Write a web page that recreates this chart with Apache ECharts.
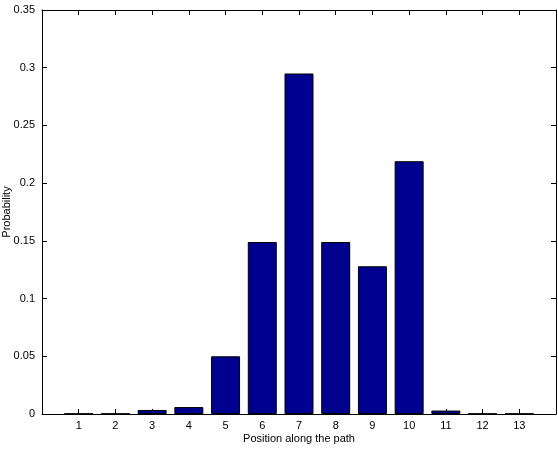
<!DOCTYPE html>
<html><head><meta charset="utf-8">
<script src="https://cdn.jsdelivr.net/npm/echarts@6/dist/echarts.min.js"></script>
<style>html,body{margin:0;padding:0;background:#fff}#c{width:558px;height:450px}</style>
</head><body><div id="c"></div>
<script>
const positions = [1,2,3,4,5,6,7,8,9,10,11,12,13];
const probabilities = [0.0003,0.0003,0.0035,0.006,0.05,0.149,0.295,0.149,0.128,0.219,0.003,0.0003,0.0003];
const yTicks = [0,0.05,0.1,0.15,0.2,0.25,0.3,0.35];

const font = 'Liberation Sans, Arial, Helvetica, sans-serif';
const chart = echarts.init(document.getElementById('c'));
const axisLine = {show:true, onZero:false, lineStyle:{color:'#000', width:1}};
const tick = {show:true, inside:true, length:5, lineStyle:{color:'#000'}};
chart.setOption({
  animation:false,
  backgroundColor:'#fff',
  grid:{left:42, right:2, top:10, bottom:36, containLabel:false, outerBoundsMode:'none'},
  xAxis:[{
    type:'value', min:0, max:14, interval:1, position:'bottom',
    axisLine:axisLine, axisTick:tick, splitLine:{show:false},
    axisLabel:{color:'#000', fontFamily:font, fontSize:11, margin:6,
      formatter:v=>positions.includes(v)?String(v):''},
    name:'Position along the path', nameLocation:'middle', nameGap:19, nameMoveOverlap:false,
    nameTextStyle:{color:'#000', fontFamily:font, fontSize:11}
  },{
    type:'value', min:0, max:14, interval:1, position:'top',
    axisLine:axisLine, axisTick:tick, axisLabel:{show:false}, splitLine:{show:false}
  }],
  yAxis:[{
    type:'value', min:0, max:0.35, interval:0.05, position:'left',
    axisLine:axisLine, axisTick:tick, splitLine:{show:false},
    axisLabel:{color:'#000', fontFamily:font, fontSize:11, margin:7,
      formatter:v=>{const t=yTicks.find(x=>Math.abs(x-v)<1e-9);return t===undefined?'':String(t);}},
    name:'Probability', nameLocation:'middle', nameGap:30, nameRotate:90, nameMoveOverlap:false,
    nameTextStyle:{color:'#000', fontFamily:font, fontSize:11}
  },{
    type:'value', min:0, max:0.35, interval:0.05, position:'right',
    axisLine:axisLine, axisTick:tick, axisLabel:{show:false}, splitLine:{show:false}
  }],
  series:[{
    type:'bar', xAxisIndex:0, yAxisIndex:0, barWidth:29,
    data:positions.map((p,i)=>[p, probabilities[i]]),
    itemStyle:{color:'#00008F', borderColor:'#000', borderWidth:1}
  }]
});
</script></body></html>
